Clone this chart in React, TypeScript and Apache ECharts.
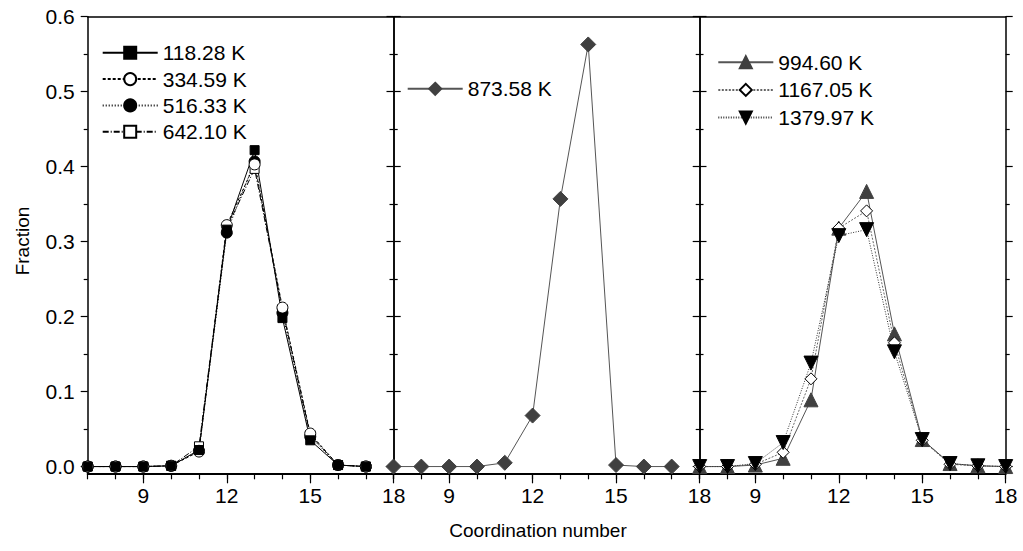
import React, { useEffect, useRef } from "react";
import * as echarts from "echarts";

// x categories (coordination number)
const xLeft = [7, 8, 9, 10, 11, 12, 13, 14, 15, 16, 17];
const xMid = [7, 8, 9, 10, 11, 12, 13, 14, 15, 16, 17];
const xRight = [7, 8, 9, 10, 11, 12, 13, 14, 15, 16, 17, 18];

// left panel
const t118 = [0, 0, 0, 0.001, 0.022, 0.316, 0.422, 0.198, 0.035, 0.002, 0];
const t334 = [0, 0, 0, 0.001, 0.02, 0.322, 0.403, 0.212, 0.044, 0.002, 0];
const t516 = [0, 0, 0, 0.001, 0.021, 0.312, 0.407, 0.205, 0.04, 0.002, 0];
const t642 = [0, 0, 0, 0.001, 0.027, 0.318, 0.397, 0.21, 0.042, 0.002, 0];
// middle panel
const t873 = [0, 0, 0, 0, 0.005, 0.068, 0.357, 0.563, 0.002, 0, 0];
// right panel
const t994 = [0, 0, 0.002, 0.011, 0.089, 0.318, 0.367, 0.177, 0.036, 0.004, 0.001, 0];
const t1167 = [0, 0, 0.003, 0.019, 0.117, 0.318, 0.341, 0.165, 0.035, 0.003, 0.001, 0];
const t1379 = [0, 0, 0.004, 0.032, 0.138, 0.308, 0.316, 0.153, 0.036, 0.004, 0.001, 0];

const xTickAll = [7, 8, 9, 10, 11, 12, 13, 14, 15, 16, 17, 18];
const xTickMajor = [9, 12, 15, 18];
const yTickMajor = [0, 0.1, 0.2, 0.3, 0.4, 0.5, 0.6];
const yTickMinor = [0.05, 0.15, 0.25, 0.35, 0.45, 0.55];

const FONT = 'Arial, "Liberation Sans", sans-serif';

const zip = (xs: number[], ys: number[]) => xs.map((x, i) => [x, ys[i]]);

export default function App() {
  const ref = useRef<HTMLDivElement>(null);
  useEffect(() => {
    document.body.style.margin = "0";
    const chart = echarts.init(ref.current!, null, { renderer: "svg" });
    const gridLefts = [87.7, 393.5, 699.7];
    const gridW = 306;
    const grid = gridLefts.map((l) => ({ left: l, width: gridW, top: 16.7, height: 456.6 }));

    const xAxis: any[] = [];
    const yAxis: any[] = [];
    gridLefts.forEach((_, g) => {
      xAxis.push({
        gridIndex: g, type: "value", min: 7, max: 18, position: "bottom",
        axisLine: { onZero: false, lineStyle: { color: "#000", width: 2 } },
        axisTick: { customValues: xTickAll, length: 6, lineStyle: { color: "#000", width: 1.2 } },
        axisLabel: { customValues: xTickMajor, color: "#000", fontSize: 21, fontFamily: FONT, margin: 12 },
        splitLine: { show: false },
      });
      xAxis.push({
        gridIndex: g, type: "value", min: 7, max: 18, position: "bottom",
        axisLine: { show: false, onZero: false },
        axisTick: { customValues: xTickMajor, length: 10, lineStyle: { color: "#000", width: 1.2 } },
        axisLabel: { show: false },
        splitLine: { show: false },
      });
      xAxis.push({
        gridIndex: g, type: "value", min: 7, max: 18, position: "top",
        axisLine: { onZero: false, lineStyle: { color: "#000", width: 1.5 } },
        axisTick: { show: false },
        axisLabel: { show: false },
        splitLine: { show: false },
      });
      // main left y
      yAxis.push({
        gridIndex: g, type: "value", min: -0.009, max: 0.6, position: "left",
        axisLine: { show: true, onZero: false, lineStyle: { color: "#000", width: 1.5 } },
        axisTick: { show: true, customValues: yTickMajor, length: 7, lineStyle: { color: "#000", width: 1.2 } },
        axisLabel: {
          show: g === 0, customValues: yTickMajor, color: "#000", fontSize: 21, fontFamily: FONT, margin: 13,
          formatter: (v: number) => v.toFixed(1),
        },
        splitLine: { show: false },
      });
      yAxis.push({
        gridIndex: g, type: "value", min: -0.009, max: 0.6, position: "left",
        axisLine: { show: false, onZero: false },
        axisTick: { show: true, customValues: yTickMinor, length: 4, lineStyle: { color: "#000", width: 1.2 } },
        axisLabel: { show: false },
        splitLine: { show: false },
      });
      yAxis.push({
        gridIndex: g, type: "value", min: -0.009, max: 0.6, position: "right",
        axisLine: { show: true, onZero: false, lineStyle: { color: "#000", width: 1.5 } },
        axisTick: { show: true, customValues: yTickMajor, length: 7, lineStyle: { color: "#000", width: 1.2 } },
        axisLabel: { show: false },
        splitLine: { show: false },
      });
      yAxis.push({
        gridIndex: g, type: "value", min: -0.009, max: 0.6, position: "right",
        axisLine: { show: false, onZero: false },
        axisTick: { show: true, customValues: yTickMinor, length: 4, lineStyle: { color: "#000", width: 1.2 } },
        axisLabel: { show: false },
        splitLine: { show: false },
      });
    });

    const mk = (name: string, g: number, xs: number[], ys: number[], sym: string, size: number,
      fill: string, border: string, lineColor: string, lineType: any, rotate = 0) => ({
      name, type: "line", xAxisIndex: g * 3, yAxisIndex: g * 4,
      data: zip(xs, ys), symbol: sym, symbolSize: size, symbolRotate: rotate,
      itemStyle: { color: fill, borderColor: border, borderWidth: 1 },
      lineStyle: { color: lineColor, width: 1, type: lineType },
      emphasis: { disabled: true },
    });

    const series = [
      mk("642.10 K", 0, xLeft, t642, "rect", 9, "#fff", "#000", "#000", [6, 2, 1, 2]),
      mk("516.33 K", 0, xLeft, t516, "circle", 11, "#000", "#000", "#000", [1, 2]),
      mk("334.59 K", 0, xLeft, t334, "circle", 11, "#fff", "#000", "#000", [3, 2]),
      mk("118.28 K", 0, xLeft, t118, "rect", 9, "#000", "#000", "#000", "solid"),
      mk("873.58 K", 1, xMid, t873, "diamond", 15, "#404040", "#404040", "#555", "solid"),
      mk("994.60 K", 2, xRight, t994, "triangle", 14, "#404040", "#404040", "#555", "solid"),
      mk("1167.05 K", 2, xRight, t1167, "diamond", 12, "#fff", "#000", "#666", [2, 1.5]),
      mk("1379.97 K", 2, xRight, t1379, "triangle", 14, "#000", "#000", "#333", [1, 1.5], 180),
    ];

    const legBase = {
      orient: "vertical", padding: 0, itemWidth: 55, itemHeight: 15,
      textStyle: { color: "#000", fontSize: 21, fontFamily: FONT, lineHeight: 20 },
      selectedMode: false,
    };

    chart.setOption({
      animation: false,
      backgroundColor: "#fff",
      grid,
      xAxis,
      yAxis,
      series,
      legend: [
        { ...legBase, left: 101.7, top: 42.3, itemGap: 5.3, data: ["118.28 K", "334.59 K", "516.33 K", "642.10 K"] },
        { ...legBase, left: 406.7, top: 78.3, itemGap: 5.3, data: ["873.58 K"] },
        { ...legBase, left: 717.3, top: 51.7, itemGap: 6.7, data: ["994.60 K", "1167.05 K", "1379.97 K"] },
      ],
      graphic: [
        {
          type: "text", x: 22, y: 241, rotation: Math.PI / 2,
          style: { text: "Fraction", fill: "#000", fontSize: 19, fontFamily: FONT, align: "center", verticalAlign: "middle" },
        },
        {
          type: "text", x: 538, y: 530,
          style: { text: "Coordination number", fill: "#000", fontSize: 19, fontFamily: FONT, align: "center", verticalAlign: "middle" },
        },
      ],
    });
    return () => chart.dispose();
  }, []);
  return <div ref={ref} style={{ width: 1023, height: 551 }} />;
}
